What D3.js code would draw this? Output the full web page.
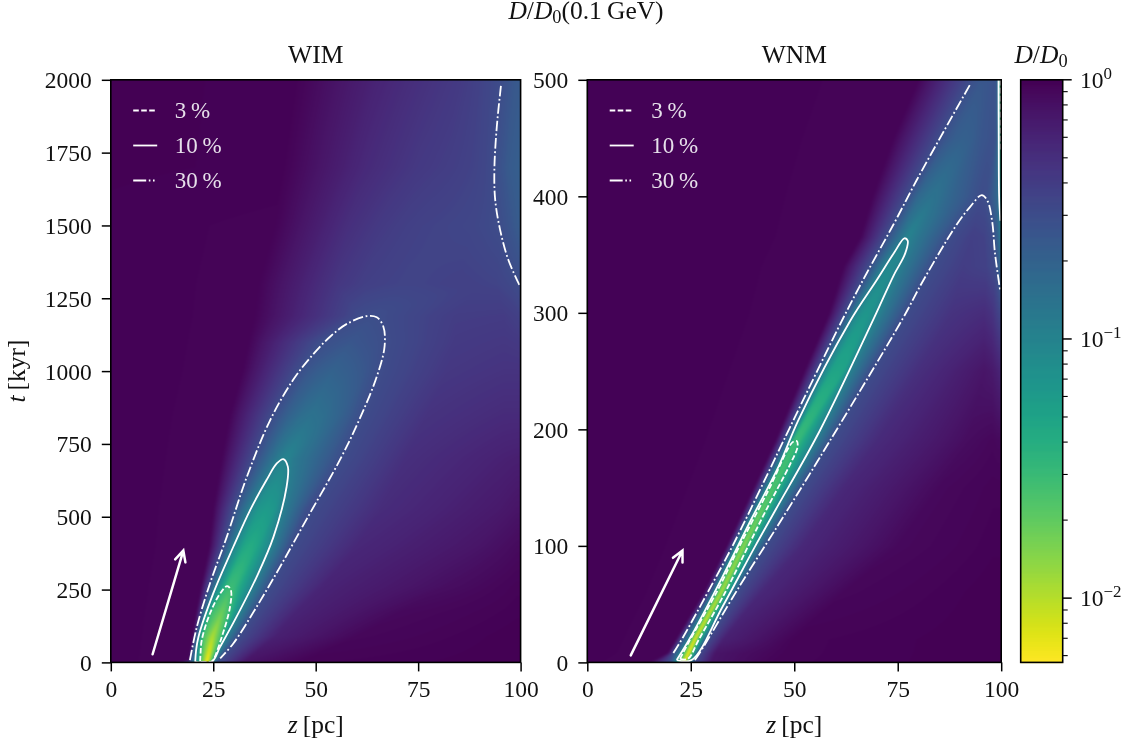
<!DOCTYPE html>
<html><head><meta charset="utf-8">
<script src="https://cdnjs.cloudflare.com/ajax/libs/d3/7.8.5/d3.min.js"></script>
<style>
html,body{margin:0;padding:0;background:#fff;width:1139px;height:747px;overflow:hidden}
#chart{position:relative;width:1139px;height:747px}
svg{position:absolute;left:0;top:0}
.heat{position:absolute;overflow:hidden}
.heat canvas{position:absolute;filter:blur(0.9px)}
text{font-family:"Liberation Serif","DejaVu Serif",serif;fill:#111}
</style></head><body><div id="chart"></div>
<script>
// ---------- data ----------
const panelNames=["WIM","WNM"];
const zTicks=[0,25,50,75,100];
const wimTTicks=[0,250,500,750,1000,1250,1500,1750,2000];
const wnmTTicks=[0,100,200,300,400,500];
const levelLabels=["3","10","30"];

// log10(D/D0) cross-sections: one row per time, nodes move with the ridge
const wimRows=[0,6,90,170,262,400,530,700,850,1000,1100,1190,1300,1500,1700,2000];
const wimZ=[
[15.5,19.1,20.5,21.6,23.3,24.2,24.7,25.8,32,45,99,100],
[19,19.3,20.7,21.7,23.5,24.7,25,26.2,33,47,99,100],
[20,20.6,21.4,22.2,24.8,27.1,28.1,31,40,60,99,100],
[20.8,22.1,23,24.2,27,28.7,31.2,34.7,45,70,99,100],
[22,24,25.8,28.2,29.3,30.3,34.4,38.6,52,82,99,100],
[24,27.5,29.9,32.5,34,35.5,39,43.7,60,90,99,100],
[25,30,34.2,36,38,40,41.5,48.1,66,95,99,100],
[27,35,40.3,41.5,42.6,43.5,45,56.1,72,96,99,100],
[29,39.6,43.5,46.5,49,52,56,61.2,77,96,99,100],
[32,45.6,48,51,54,58,62,65.3,82,96,99,100],
[33.5,50.5,53,56,58.5,61,64.5,66.8,84,96,99,100],
[35,60.5,62,63,64,64.9,65.8,67,84,96,99,100],
[36,55,62,67,71,75,80,85,90,94,97,100],
[40,58,66,72,76,80,84,88,91,95,98,100],
[42,62,70,75,79,83,86,89,91,93.6,97,100],
[45,65,72,77,81,84,87,90,92,95.3,98,100]];
const wimLog=[
[-.02,-.523,-1,-1.523,-2.25,-1.523,-1,-.523,-.12,-.02,0,0],
[-.02,-.523,-1,-1.523,-2.25,-1.523,-1,-.523,-.12,-.02,0,0],
[-.02,-.523,-1,-1.523,-1.98,-1.523,-1,-.523,-.2,-.04,0,0],
[-.02,-.523,-1,-1.523,-1.75,-1.523,-1,-.523,-.22,-.05,-.01,-.01],
[-.02,-.523,-1,-1.5,-1.53,-1.5,-1,-.523,-.22,-.08,-.02,-.02],
[-.02,-.523,-1,-1.33,-1.38,-1.33,-1,-.523,-.25,-.12,-.06,-.06],
[-.02,-.523,-1,-1.18,-1.22,-1.18,-1,-.523,-.28,-.15,-.12,-.12],
[-.02,-.523,-.9,-.97,-1,-.97,-.9,-.523,-.3,-.2,-.19,-.19],
[-.02,-.523,-.7,-.8,-.84,-.8,-.7,-.523,-.33,-.27,-.27,-.27],
[-.02,-.523,-.6,-.66,-.7,-.66,-.6,-.523,-.36,-.33,-.33,-.33],
[-.02,-.523,-.55,-.58,-.6,-.58,-.55,-.523,-.38,-.36,-.37,-.38],
[-.02,-.51,-.52,-.525,-.527,-.525,-.52,-.51,-.4,-.39,-.42,-.44],
[-.02,-.35,-.42,-.44,-.45,-.45,-.44,-.43,-.44,-.45,-.48,-.53],
[-.02,-.3,-.38,-.42,-.44,-.45,-.46,-.47,-.49,-.523,-.6,-.65],
[-.01,-.26,-.33,-.37,-.39,-.41,-.43,-.45,-.47,-.523,-.63,-.67],
[-.01,-.22,-.28,-.32,-.35,-.37,-.4,-.44,-.47,-.523,-.6,-.63]];

const wnmRows=[0,8,20,60,100,150,190,250,300,340,365,400,450,500];
const wnmZ=[
[15,20.2,21.3,22.2,23.6,24.2,24.9,25.7,30,45,98,99.3,99.7,100],
[19.5,20.8,22.6,23.2,24.6,25.4,26.2,27,31,48,98,99.3,99.7,100],
[21.5,22.9,24.7,25,26.1,27,28,29.1,33,50,98,99.3,99.7,100],
[28.2,29.7,30.7,31.3,32.4,33.3,34.6,36,42,62,98,99.3,99.7,100],
[33.8,35.1,35.9,36.8,37.8,38.9,40.6,43,52,75,98,99.3,99.7,100],
[40.3,42,43.4,44,45,45.9,48.4,51.7,62,85,98,99.3,99.7,100],
[45.5,47.5,49,49.7,50.4,51.1,54.9,58.8,70,92,98,99.3,99.7,100],
[52.5,55.6,57.2,59,60.5,62,63.3,68.5,80,96,98,99.3,99.7,100],
[58.5,62.5,64.8,66.5,67.5,68.5,70.2,76.8,88,96,98,99.3,99.7,100],
[62,68.3,72,72.6,73.4,74.2,74.8,83.2,91,96.5,98.7,99.3,99.7,100],
[66,72.3,76.2,77,77.5,78,79.5,87.4,93,96,98.1,99.3,99.7,100],
[69,77.5,80,82,83.5,85,88,94.9,95.3,96.4,97.5,99.3,99.6,100],
[74,85.2,87,89,91,93,95,96.5,97.5,98.5,99,99.35,99.7,100],
[80,92.7,93.5,94.3,95,95.7,96.5,97.3,98,98.6,99,99.35,99.7,100]];
const wnmLog=[
[-.02,-.523,-1,-1.523,-2.25,-1.523,-1,-.523,-.12,-.02,0,0,0,0],
[-.02,-.523,-1,-1.523,-2.25,-1.523,-1,-.523,-.12,-.02,0,0,0,0],
[-.02,-.523,-1,-1.523,-2.2,-1.523,-1,-.523,-.2,-.02,0,0,0,0],
[-.02,-.523,-1,-1.523,-2,-1.523,-1,-.523,-.25,-.04,0,0,0,0],
[-.02,-.523,-1,-1.523,-1.88,-1.523,-1,-.523,-.25,-.05,-.01,-.01,-.01,-.01],
[-.02,-.523,-1,-1.523,-1.62,-1.523,-1,-.523,-.25,-.05,-.02,-.02,-.02,-.02],
[-.02,-.523,-1,-1.5,-1.53,-1.5,-1,-.523,-.27,-.07,-.04,-.05,-.05,-.06],
[-.02,-.523,-1,-1.3,-1.32,-1.3,-1,-.523,-.3,-.12,-.15,-.2,-.22,-.25],
[-.02,-.523,-1,-1.15,-1.18,-1.15,-1,-.523,-.33,-.28,-.33,-.43,-.46,-.48],
[-.02,-.523,-1,-1.03,-1.05,-1.03,-1,-.523,-.4,-.44,-.523,-.6,-.68,-.8],
[-.02,-.523,-.9,-.97,-1,-.97,-.9,-.523,-.42,-.44,-.523,-.7,-.85,-.95],
[-.02,-.523,-.75,-.82,-.85,-.82,-.72,-.523,-.515,-.53,-.6,-.75,-1,-1.2],
[-.02,-.523,-.6,-.66,-.68,-.66,-.6,-.58,-.56,-.56,-.6,-.8,-1.3,-1.6],
[-.02,-.523,-.56,-.58,-.6,-.6,-.6,-.59,-.58,-.58,-.62,-.85,-1.4,-1.7]];

// contour lines [z, t]
const wim3=[[21.8,3],[21.9,30],[22.2,77],[24.2,168],[26.7,237],[28.4,262],[29.3,248],[29.1,191],[27.1,88],[25,8],[24.6,3],[21.8,3]];
const wim10=[[20.6,2],[20.8,40],[21.4,88],[25,237],[29.9,397],[34,523],[38,626],[40.5,683],[42.1,698],[43.2,672],[42.9,603],[39.7,431],[35.6,294],[30.7,157],[26.7,54],[24.6,2],[20.6,2]];
const wim30=[[19.3,8],[21,122],[24.2,271],[28.3,431],[33.2,637],[38.9,832],[44.5,970],[49.4,1058],[53.5,1118],[57.6,1162],[62.5,1189],[64.9,1185],[66.5,1153],[66.8,1084],[64.9,981],[60.6,832],[55.9,695],[47.8,492],[41.3,328],[35.6,191],[29.9,65],[26.7,14]];
const wim30b=[[95.2,1979],[94.2,1840],[93.6,1691],[93.8,1588],[95,1485],[97,1382],[99.7,1296]];
const wnm3=[[22.4,3],[24.3,16],[31.5,62],[36.8,100],[43.8,148],[49.6,189],[50.6,190],[50.8,185],[49,170],[43.1,130],[38.9,100],[33.3,60],[27,20],[24.3,3],[22.4,3]];
const wnm3b=[[99.85,500],[99.9,440]];
const wnm10=[[21.6,2],[25,22],[32.6,73],[39.5,122],[46.2,168],[51,208],[63.5,293],[69.9,328],[74.2,352],[76.6,364],[77.4,362],[76.8,351],[74,332],[69.2,295],[56.2,199],[45.5,131],[40.6,100],[32.7,48],[25.2,2],[21.6,2]];
const wnm10b=[[99.35,500],[99.4,450],[99.5,400],[99.8,379]];
const wnm30=[[20.8,8],[23.2,22],[30.3,68],[35.1,100],[43.2,159],[49,202],[61.9,296],[67.5,334],[74,376],[79.6,414],[86,455],[92.5,496]];
const wnm30b=[[26,2],[28,13],[36.2,62],[46.3,119],[56.2,176],[76.2,295],[81.2,328],[89.3,376],[92.5,391],[95.3,401],[96.7,396],[97.8,379],[98.5,351],[99.8,318]];
const wimArrow=[[10.2,28],[17.7,384]];
const wnmArrow=[[10.5,6],[23,96]];

// ---------- layout ----------
const W=1139,H=747;
const yTop=79.8,yBot=662.4;
const boxes=[{l:110.8,r:520.6,tMax:2000},{l:587.3,r:1001.2,tMax:500}];
const cb={l:1020.7,r:1062.7};
const logMin=-2.248;
const fs=23.5, fsLabel=25.5;

const color=d3.scaleSequentialLog(d3.interpolateViridis).domain([1,Math.pow(10,logMin)]);
const root=d3.select("#chart");
const svg=root.append("svg").attr("width",W).attr("height",H);

const dashes={3:"5.6 2.4",10:null,30:"10.5 2.6 1.8 2.6"};
const legendDashes={3:"5.6 2.4",10:null,30:"13 2.6 1.6 2.6 1.6 3"};
const lineW=1.8;

function paintHeat(box,x,y,rows,zs,logs){
  const pad=8;
  const w=Math.ceil(box.r-box.l),h=Math.ceil(yBot-yTop);
  const div=root.insert("div","svg").attr("class","heat")
    .style("left",box.l+"px").style("top",yTop+"px").style("width",(box.r-box.l)+"px").style("height",(yBot-yTop)+"px");
  const cv=div.append("canvas").attr("width",w+2*pad).attr("height",h+2*pad)
    .style("left",-pad+"px").style("top",-pad+"px").node();
  const ctx=cv.getContext("2d");
  const img=ctx.createImageData(w+2*pad,h+2*pad);
  const nCol=zs[0].length;
  const zScale=d3.range(nCol).map(k=>d3.scaleLinear().domain(rows).range(zs.map(r=>r[k])).clamp(true));
  const vScale=d3.range(nCol).map(k=>d3.scaleLinear().domain(rows).range(logs.map(r=>r[k])).clamp(true));
  const lut=d3.range(1025).map(i=>d3.rgb(color(Math.pow(10,logMin*i/1024))));
  let p=0;
  for(let j=0;j<h+2*pad;j++){
    const t=y.invert(yTop+j-pad+.5);
    const nz=[-50,...zScale.map(s=>s(t)),150];
    const nv=[0,...vScale.map(s=>s(t)),vScale[nCol-1](t)];
    const sec=d3.scaleLinear().domain(nz).range(nv);
    for(let i=0;i<w+2*pad;i++){
      const z=Math.min(100,x.invert(box.l+i-pad+.5));
      const v=Math.max(logMin,Math.min(0,sec(z)));
      const c=lut[Math.round(v/logMin*1024)];
      img.data[p++]=c.r;img.data[p++]=c.g;img.data[p++]=c.b;img.data[p++]=255;
    }
  }
  ctx.putImageData(img,0,0);
}

function mathPct(sel,x,y,num){
  const t=sel.append("text").attr("x",x).attr("y",y).attr("font-size",23).style("fill","#e6e0ea");
  t.text(num+"\u2009%");
}

function D0(t,size){
  t.append("tspan").attr("font-style","italic").text("D");
  t.append("tspan").text("/");
  t.append("tspan").attr("font-style","italic").text("D");
  t.append("tspan").attr("font-size",size*0.72).attr("dy",4).text("0");
}

function drawPanel(idx,rows,zs,logs,ticks,contours,arrow){
  const box=boxes[idx];
  const x=d3.scaleLinear().domain([0,100]).range([box.l,box.r]);
  const y=d3.scaleLinear().domain([0,box.tMax]).range([yBot,yTop]);
  paintHeat(box,x,y,rows,zs,logs);
  const g=svg.append("g");
  const cid="clip"+idx;
  svg.append("clipPath").attr("id",cid).append("rect").attr("x",box.l).attr("y",yTop).attr("width",box.r-box.l).attr("height",yBot-yTop);
  const line=d3.line().x(d=>x(d[0])).y(d=>y(d[1])).curve(d3.curveCatmullRom.alpha(.5));
  const cg=g.append("g").attr("clip-path",`url(#${cid})`);
  contours.forEach(c=>{
    cg.append("path").attr("d",line(c.pts)).attr("fill","none").attr("stroke","#fff")
      .attr("stroke-width",lineW).attr("stroke-dasharray",dashes[c.level]);
  });
  // arrow
  const [a,b]=[[x(arrow[0][0]),y(arrow[0][1])],[x(arrow[1][0]),y(arrow[1][1])]];
  const ang=Math.atan2(b[1]-a[1],b[0]-a[0]);
  const hl=12,hw=0.46;
  g.append("path").attr("fill","none").attr("stroke","#fff").attr("stroke-width",2.5).attr("stroke-linecap","round")
    .attr("stroke-linejoin","miter")
    .attr("d",d3.line()([a,b])+d3.line()([[b[0]-hl*Math.cos(ang-hw),b[1]-hl*Math.sin(ang-hw)],b,[b[0]-hl*Math.cos(ang+hw),b[1]-hl*Math.sin(ang+hw)]]));
  // legend
  levelLabels.forEach((lab,i)=>{
    const ly=110.5+i*35;
    g.append("line").attr("x1",box.l+22.4).attr("x2",box.l+46.4).attr("y1",ly).attr("y2",ly)
      .attr("stroke","#fff").attr("stroke-width",lineW).attr("stroke-dasharray",legendDashes[lab]);
    mathPct(g,box.l+64,ly+7.5,lab);
  });
  // axes
  const ax=d3.axisBottom(x).tickValues(zTicks).tickFormat(d3.format("d")).tickSize(9).tickPadding(9);
  const ay=d3.axisLeft(y).tickValues(ticks).tickFormat(d3.format("d")).tickSize(9).tickPadding(10);
  const gx=g.append("g").attr("transform",`translate(0,${yBot})`).call(ax);
  const gy=g.append("g").attr("transform",`translate(${box.l},0)`).call(ay);
  [gx,gy].forEach(s=>{
    s.select(".domain").remove();
    s.selectAll("line").attr("stroke","#000").attr("stroke-width",1.5);
    s.selectAll("text").attr("font-size",fs).style("font-family",'"Liberation Serif",serif').style("fill","#111");
  });
  gy.selectAll("text").attr("dy","0.34em");
  gx.selectAll("text").attr("dy","0.72em");
  g.append("rect").attr("x",box.l).attr("y",yTop).attr("width",box.r-box.l).attr("height",yBot-yTop)
    .attr("fill","none").attr("stroke","#000").attr("stroke-width",1.6);
  // title
  g.append("text").attr("x",(box.l+box.r)/2).attr("y",63).attr("text-anchor","middle").attr("font-size",fsLabel).text(panelNames[idx]);
  // x label
  const xl=g.append("text").attr("x",(box.l+box.r)/2).attr("y",733).attr("text-anchor","middle").attr("font-size",fsLabel);
  xl.append("tspan").attr("font-style","italic").text("z");
  xl.append("tspan").text("\u2009[pc]");
}

drawPanel(0,wimRows,wimZ,wimLog,wimTTicks,
  [{level:3,pts:wim3},{level:10,pts:wim10},{level:30,pts:wim30},{level:30,pts:wim30b}],wimArrow);
drawPanel(1,wnmRows,wnmZ,wnmLog,wnmTTicks,
  [{level:3,pts:wnm3},{level:3,pts:wnm3b},{level:10,pts:wnm10},{level:10,pts:wnm10b},{level:30,pts:wnm30},{level:30,pts:wnm30b}],wnmArrow);

// y label
const yl=svg.append("text").attr("transform",`translate(25,371) rotate(-90)`).attr("text-anchor","middle").attr("font-size",fsLabel);
yl.append("tspan").attr("font-style","italic").text("t");
yl.append("tspan").text("\u2009[kyr]");

// suptitle
const st=svg.append("text").attr("x",586).attr("y",19).attr("text-anchor","middle").attr("font-size",fsLabel);
D0(st,fsLabel);
st.append("tspan").attr("dy",-4).text("(0.1\u2009GeV)");

// colour bar
const cy=d3.scaleLog().domain([1,Math.pow(10,logMin)]).range([yTop,yBot]);
const cbG=svg.append("g");
cbG.selectAll("rect.s").data(d3.range(yTop,yBot,1)).join("rect").attr("class","s")
  .attr("x",cb.l).attr("width",cb.r-cb.l).attr("y",d=>d).attr("height",1.4)
  .attr("fill",d=>color(cy.invert(d+.5)));
cbG.append("rect").attr("x",cb.l).attr("y",yTop).attr("width",cb.r-cb.l).attr("height",yBot-yTop)
  .attr("fill","none").attr("stroke","#000").attr("stroke-width",1.6);
const majors=[1,0.1,0.01];
const minors=[];
[-3,-2,-1].forEach(e=>d3.range(2,10).forEach(m=>{const v=m*Math.pow(10,e);if(v>=cy.domain()[1])minors.push(v);}));
cbG.selectAll("line.mi").data(minors).join("line").attr("class","mi").attr("x1",cb.r).attr("x2",cb.r+5).attr("y1",d=>cy(d)).attr("y2",d=>cy(d)).attr("stroke","#000").attr("stroke-width",1.1);
cbG.selectAll("line.ma").data(majors).join("line").attr("class","ma").attr("x1",cb.r).attr("x2",cb.r+9).attr("y1",d=>cy(d)).attr("y2",d=>cy(d)).attr("stroke","#000").attr("stroke-width",1.5);
majors.forEach(v=>{
  const e=Math.round(Math.log10(v));
  const t=cbG.append("text").attr("x",1080).attr("y",cy(v)+8).attr("font-size",fs);
  t.append("tspan").text("10");
  t.append("tspan").attr("font-size",fs*.72).attr("dy",-9).text(e===0?"0":"\u2212"+(-e));
});
const ct=svg.append("text").attr("x",1041).attr("y",63).attr("text-anchor","middle").attr("font-size",fsLabel);
D0(ct,fsLabel);
</script></body></html>
